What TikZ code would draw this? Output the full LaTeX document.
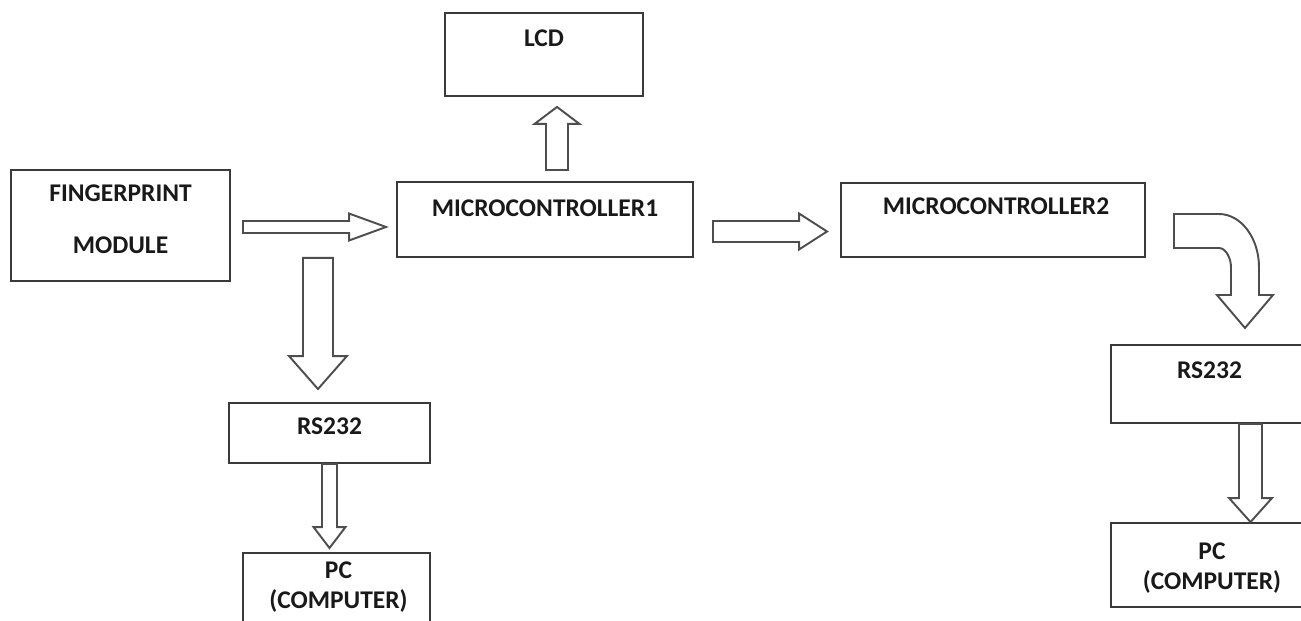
\documentclass[tikz,border=0pt]{standalone}
\usepackage{fontspec}
\setmainfont{Carlito}
\usetikzlibrary{calc}
\definecolor{boxline}{HTML}{3A3A3A}
\definecolor{arrline}{HTML}{4E4E4E}

\begin{document}
\begin{tikzpicture}[x=0.02cm,y=-0.02cm,
  box/.style 2 args={draw=boxline,line width=1.1pt,inner sep=0pt,
    minimum width=#1*0.02cm,minimum height=#2*0.02cm},
  txt/.style={font=\bfseries\fontsize{14.5}{17.5}\selectfont,anchor=north,
    inner sep=0pt,align=center,text=black!90},
  barrow/.style n args={3}{draw=arrline,fill=white,line width=1.1pt,line join=miter,
    to path={let \p1=(\tikztostart),\p2=(\tikztotarget),
      \n1={veclen(\x2-\x1,\y2-\y1)},\n2={(\x2-\x1)/\n1},\n3={(\y2-\y1)/\n1} in
      (\x1-#1*0.569*\n3,\y1+#1*0.569*\n2)
      -- (\x2-#3*0.569*\n2-#1*0.569*\n3,\y2-#3*0.569*\n3+#1*0.569*\n2)
      -- (\x2-#3*0.569*\n2-#2*0.569*\n3,\y2-#3*0.569*\n3+#2*0.569*\n2)
      -- (\x2,\y2)
      -- (\x2-#3*0.569*\n2+#2*0.569*\n3,\y2-#3*0.569*\n3-#2*0.569*\n2)
      -- (\x2-#3*0.569*\n2+#1*0.569*\n3,\y2-#3*0.569*\n3-#1*0.569*\n2)
      -- (\x1+#1*0.569*\n3,\y1-#1*0.569*\n2) -- cycle}}]
\path[use as bounding box,clip] (0,0) rectangle (1301,621);

\node[box={219}{111}] (fp) at (120.5,225.5) {};
\node[box={198}{83}] (lcd) at (544,54.5) {};
\node[box={296}{75}] (mc1) at (545,219.5) {};
\node[box={304}{74}] (mc2) at (993,220) {};
\node[box={201}{60}] (rs1) at (329.5,433) {};
\node[box={187}{90}] (pc1) at (336.5,598) {};
\node[box={197}{78}] (rs2) at (1209.5,384) {};
\node[box={198}{84}] (pc2) at (1210,565) {};

\node[txt] (fptxt) at ($(fp.north)+(0,15)$) {FINGERPRINT\\[12.1pt]MODULE};
\node[txt] (lcdtxt) at ($(lcd.north)+(0,17)$) {LCD};
\node[txt] (mc1txt) at ($(mc1.north)+(0,18)$) {MICROCONTROLLER1};
\node[txt] (mc2txt) at ($(mc2.north)+(3,15)$) {MICROCONTROLLER2};
\node[txt] (rs1txt) at ($(rs1.north)+(0,15)$) {RS232};
\node[txt] (rs2txt) at ($(rs2.north)+(0,17)$) {RS232};
\node[txt] (pc1txt) at ($(pc1.north)+(2,9)$) {PC\\(COMPUTER)};
\node[txt] (pc2txt) at ($(pc2.north)+(2,20)$) {PC\\(COMPUTER)};

% block arrows
\path ($(fp.east)+(12,1.5)$) coordinate (a1)
      ($(fp.south east)+(87,-24)$) coordinate (a2)
      ($(mc1.north)+(12,-11)$) coordinate (a3)
      ($(mc1.east)+(19,12)$) coordinate (a4)
      ($(rs2.south)+(41,0)$) coordinate (a6);
\draw[barrow={6}{13.5}{37}] (a1) to ($(a1-|mc1.west)+(-10,0)$);
\draw[barrow={15}{29}{33}] (a2) to ($(a2|-rs1.north)+(0,-13)$);
\draw[barrow={11}{22.5}{17}] (a3) to ($(a3|-lcd.south)+(0,10)$);
\draw[barrow={10.5}{18}{28}] (a4) to ($(a4-|mc2.west)+(-13,0)$);
\draw[barrow={7.5}{16}{21}] (rs1.south) to ($(rs1.south|-pc1.north)+(0,-4)$);
\draw[barrow={11.5}{21.5}{24}] (a6) to (a6|-pc2.north);

% bent arrow
\draw[draw=arrline,fill=white,line width=1.1pt,line join=miter]
  ($(mc2.east)+(28,-6)$) coordinate (c1) -- ++(45,0)
  .. controls +(22,0) and +(0,-29) .. ++(40,53) -- ++(0,28) -- ++(14,0)
  -- ++(-28,33) coordinate (c2) -- ++(-28,-33) -- ++(14,0) -- ++(0,-28)
  .. controls +(0,-8.5) and +(7,0) .. ++(-12,-19) -- ++(-45,0) -- cycle;
\end{tikzpicture}
\end{document}
